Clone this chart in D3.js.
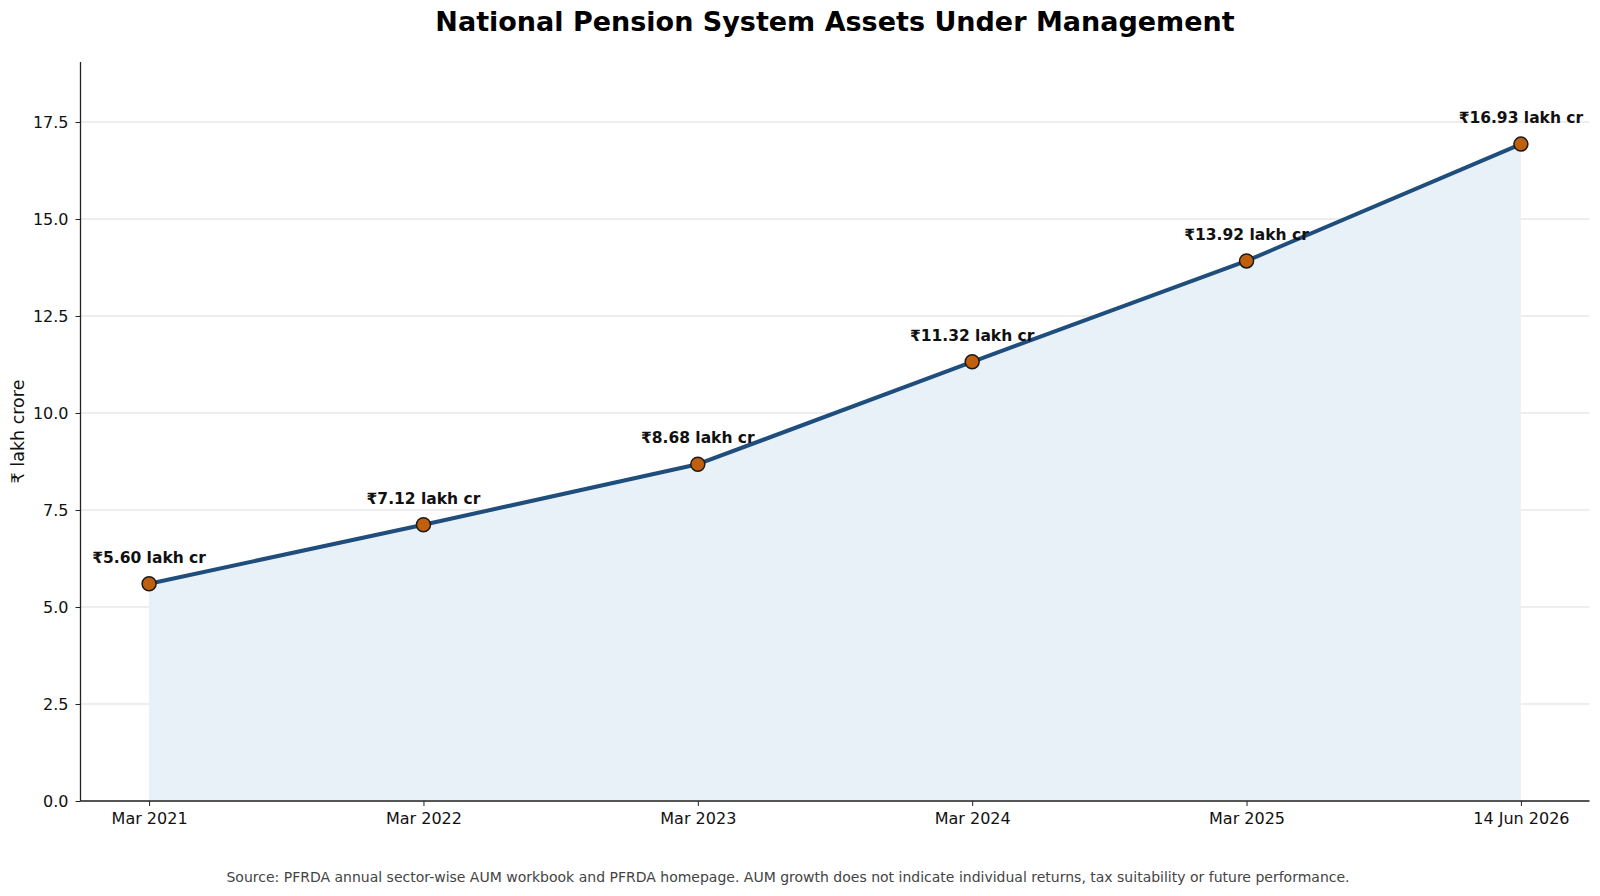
<!DOCTYPE html>
<html>
<head>
<meta charset="utf-8">
<script src="https://cdn.jsdelivr.net/npm/d3@7"></script>
<style>
  body { margin: 0; background: #fff; }
  svg { font-family: "DejaVu Sans", sans-serif; }
</style>
</head>
<body>
<svg id="chart" width="1600" height="896"></svg>
<script>
// data
const periods = ['Mar 2021', 'Mar 2022', 'Mar 2023', 'Mar 2024', 'Mar 2025', '14 Jun 2026']
const aum = [5.60, 7.12, 8.68, 11.32, 13.92, 16.93]
const yTicks = [0, 2.5, 5, 7.5, 10, 12.5, 15, 17.5]

const svg = d3.select('#chart')
const plotLeft = 80.5, plotRight = 1589.5, plotTop = 62, plotBottom = 801

const x = d3.scaleLinear()
  .domain([-0.25, periods.length - 0.75])
  .range([plotLeft, plotRight])
const y = d3.scaleLinear()
  .domain([0, d3.max(aum) * 1.125])
  .range([plotBottom, plotTop])

const pts = aum.map((v, i) => ({ i, v, label: periods[i] }))

// grid
svg.append('g')
  .selectAll('line')
  .data(yTicks)
  .join('line')
  .attr('x1', plotLeft).attr('x2', plotRight)
  .attr('y1', d => y(d)).attr('y2', d => y(d))
  .attr('stroke', '#dcdcdc')
  .attr('stroke-width', 1)

// area under the line
const area = d3.area()
  .x(d => x(d.i))
  .y0(y(0))
  .y1(d => y(d.v))
svg.append('path')
  .datum(pts)
  .attr('d', area)
  .attr('fill', '#e9f1f8')

// line
const line = d3.line()
  .x(d => x(d.i))
  .y(d => y(d.v))
svg.append('path')
  .datum(pts)
  .attr('d', line)
  .attr('fill', 'none')
  .attr('stroke', '#1f4e7d')
  .attr('stroke-width', 4)
  .attr('stroke-linejoin', 'round')

// markers
svg.append('g')
  .selectAll('circle')
  .data(pts)
  .join('circle')
  .attr('cx', d => x(d.i))
  .attr('cy', d => y(d.v))
  .attr('r', 7)
  .attr('fill', '#c0600e')
  .attr('stroke', '#1a1a1a')
  .attr('stroke-width', 1.5)

// value labels
svg.append('g')
  .selectAll('text')
  .data(pts)
  .join('text')
  .attr('x', d => x(d.i))
  .attr('y', d => y(d.v) - 21)
  .attr('text-anchor', 'middle')
  .attr('font-size', '15.5px')
  .attr('font-weight', 'bold')
  .attr('fill', '#111')
  .text(d => '₹' + d.v.toFixed(2) + ' lakh cr')

// y axis
const yAxis = d3.axisLeft(y)
  .tickValues(yTicks)
  .tickFormat(d3.format('.1f'))
  .tickSize(5)
  .tickPadding(7)
const gy = svg.append('g')
  .attr('transform', `translate(${plotLeft},0)`)
  .call(yAxis)
gy.select('.domain').attr('d', `M-0,${plotTop}V${plotBottom}`).attr('stroke', '#222').attr('stroke-width', 1.3)
gy.selectAll('.tick line').attr('stroke', '#222')
gy.selectAll('.tick text').attr('font-size', '16px').attr('fill', '#111').attr('font-family', 'DejaVu Sans')

// x axis
const xAxis = d3.axisBottom(x)
  .tickValues(d3.range(periods.length))
  .tickFormat(i => periods[i])
  .tickSize(5)
  .tickPadding(7)
const gx = svg.append('g')
  .attr('transform', `translate(0,${plotBottom})`)
  .call(xAxis)
gx.select('.domain').attr('d', `M${plotLeft},0H${plotRight}`).attr('stroke', '#222').attr('stroke-width', 1.3)
gx.selectAll('.tick line').attr('stroke', '#222')
gx.selectAll('.tick text').attr('font-size', '16px').attr('fill', '#111').attr('font-family', 'DejaVu Sans')

// y label
svg.append('text')
  .attr('transform', `translate(24,${(plotTop + plotBottom) / 2}) rotate(-90)`)
  .attr('text-anchor', 'middle')
  .attr('font-size', '17.5px')
  .attr('fill', '#111')
  .text('₹ lakh crore')

// title
svg.append('text')
  .attr('x', (plotLeft + plotRight) / 2)
  .attr('y', 31)
  .attr('text-anchor', 'middle')
  .attr('font-size', '27px')
  .attr('font-weight', 'bold')
  .attr('fill', '#000')
  .text('National Pension System Assets Under Management')

// source note
svg.append('text')
  .attr('x', 788)
  .attr('y', 882)
  .attr('text-anchor', 'middle')
  .attr('font-size', '14px')
  .attr('fill', '#444')
  .text('Source: PFRDA annual sector-wise AUM workbook and PFRDA homepage. AUM growth does not indicate individual returns, tax suitability or future performance.')
</script>
</body>
</html>
